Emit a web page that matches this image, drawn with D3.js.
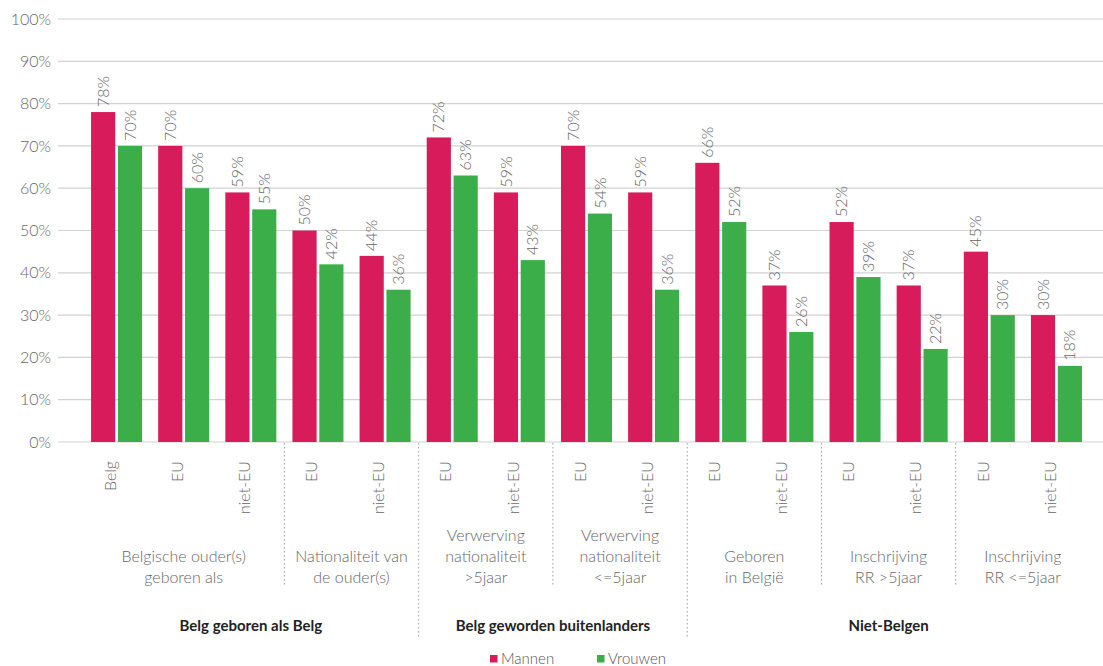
<!DOCTYPE html>
<html>
<head>
<meta charset="utf-8">
<script src="https://cdn.jsdelivr.net/npm/d3@7"></script>
<style>
  body { margin: 0; background: #fff; }
  svg { display: block; }
  text { font-family: Lato, "Open Sans", sans-serif; }
</style>
</head>
<body>
<svg id="chart" width="1103" height="666"></svg>
<script>
// ---- data ----
const categories = ["Belg", "EU", "niet-EU", "EU", "niet-EU", "EU", "niet-EU", "EU", "niet-EU", "EU", "niet-EU", "EU", "niet-EU", "EU", "niet-EU"];
const mannen  = [78, 70, 59, 50, 44, 72, 59, 70, 59, 66, 37, 52, 37, 45, 30];
const vrouwen = [70, 60, 55, 42, 36, 63, 43, 54, 36, 52, 26, 39, 22, 30, 18];
const series = ["Mannen", "Vrouwen"];
const yTicks = [0, 10, 20, 30, 40, 50, 60, 70, 80, 90, 100];
// subgroups: label lines, first & last category index
const subGroups = [
  { lines: ["Belgische ouder(s)", "geboren als"], from: 0, to: 2 },
  { lines: ["Nationaliteit van", "de ouder(s)"], from: 3, to: 4 },
  { lines: ["Verwerving", "nationaliteit", ">5jaar"], from: 5, to: 6 },
  { lines: ["Verwerving", "nationaliteit", "<=5jaar"], from: 7, to: 8 },
  { lines: ["Geboren", "in België"], from: 9, to: 10 },
  { lines: ["Inschrijving", "RR >5jaar"], from: 11, to: 12 },
  { lines: ["Inschrijving", "RR <=5jaar"], from: 13, to: 14 }
];
const mainGroups = [
  { label: "Belg geboren als Belg", from: 0, to: 4 },
  { label: "Belg geworden buitenlanders", from: 5, to: 8 },
  { label: "Niet-Belgen", from: 9, to: 14 }
];

const colors = { Mannen: "#d81b5b", Vrouwen: "#3cae49" };

const svg = d3.select("#chart");
const idx = d3.range(categories.length);

const x = d3.scaleBand().domain(idx).range([83, 1090]).paddingInner(0.24).paddingOuter(0.12);
const xs = d3.scaleBand().domain(series).range([0, x.bandwidth()]).paddingInner(0.1);
const y = d3.scaleLinear().domain([0, 100]).range([442, 19]);

// gridlines
svg.append("g").selectAll("line").data(yTicks).join("line")
  .attr("x1", 58).attr("x2", 1103)
  .attr("y1", d => y(d)).attr("y2", d => y(d))
  .attr("stroke", "#d2d2d2").attr("stroke-width", 1.2);

// y tick labels
svg.append("g").selectAll("text").data(yTicks).join("text")
  .attr("x", 51).attr("y", d => y(d)).attr("dy", "0.35em")
  .attr("text-anchor", "end").attr("fill", "#666")
  .attr("font-size", 16).attr("font-weight", 300)
  .text(d => d + "%");

// bars
const rows = idx.map(i => ({ i, values: [{ s: "Mannen", v: mannen[i] }, { s: "Vrouwen", v: vrouwen[i] }] }));
const g = svg.append("g").selectAll("g").data(rows).join("g")
  .attr("transform", d => `translate(${x(d.i)},0)`);
g.selectAll("rect").data(d => d.values).join("rect")
  .attr("x", d => xs(d.s)).attr("width", xs.bandwidth())
  .attr("y", d => y(d.v)).attr("height", d => y(0) - y(d.v))
  .attr("fill", d => colors[d.s]);
g.selectAll("text").data(d => d.values).join("text")
  .attr("transform", d => `translate(${xs(d.s) + xs.bandwidth() / 2},${y(d.v) - 5}) rotate(-90)`)
  .attr("dy", "0.35em")
  .attr("fill", "#666").attr("font-size", 16).attr("font-weight", 300)
  .text(d => d.v + "%");

// category labels
svg.append("g").selectAll("text").data(idx).join("text")
  .attr("transform", i => `translate(${x(i) + x.bandwidth() / 2},461) rotate(-90)`)
  .attr("text-anchor", "end").attr("dy", "-0.05em")
  .attr("fill", "#666").attr("font-size", 16).attr("font-weight", 300)
  .text(i => categories[i]);

// separators
const sepX = i => (x(i - 1) + x.bandwidth() + x(i)) / 2;
const mainStarts = new Set(mainGroups.slice(1).map(m => m.from));
const sepIdx = subGroups.slice(1).map(s => s.from);
svg.append("g").selectAll("line").data(sepIdx).join("line")
  .attr("x1", i => sepX(i)).attr("x2", i => sepX(i))
  .attr("y1", 443).attr("y2", i => mainStarts.has(i) ? 637 : 585)
  .attr("stroke", "#9a9a9a").attr("stroke-width", 1).attr("stroke-dasharray", "1.5,2.5");

// subgroup labels
const centerOf = (a, b) => (x(a) + x(b) + x.bandwidth()) / 2;
const sg = svg.append("g").selectAll("text").data(subGroups).join("text")
  .attr("text-anchor", "middle").attr("fill", "#666")
  .attr("font-size", 16).attr("font-weight", 300);
sg.each(function (d) {
  const t = d3.select(this);
  const cx = centerOf(d.from, d.to);
  const n = d.lines.length;
  d.lines.forEach((l, k) => {
    t.append("tspan").attr("x", cx).attr("y", 583 - (n - 1 - k) * 21).text(l);
  });
});

// main group labels
svg.append("g").selectAll("text").data(mainGroups).join("text")
  .attr("x", d => centerOf(d.from, d.to)).attr("y", 631)
  .attr("text-anchor", "middle").attr("fill", "#222")
  .attr("font-size", 15).attr("font-weight", 700)
  .text(d => d.label);

// legend
const legX = d3.scaleOrdinal().domain(series).range([490, 597]);
const leg = svg.append("g").selectAll("g").data(series).join("g")
  .attr("transform", d => `translate(${legX(d)},655)`);
leg.append("rect").attr("width", 7.5).attr("height", 7.5).attr("fill", d => colors[d]);
leg.append("text").attr("x", 11).attr("y", 9).attr("fill", "#555")
  .attr("font-size", 15).attr("font-weight", 300).text(d => d);
</script>
</body>
</html>
